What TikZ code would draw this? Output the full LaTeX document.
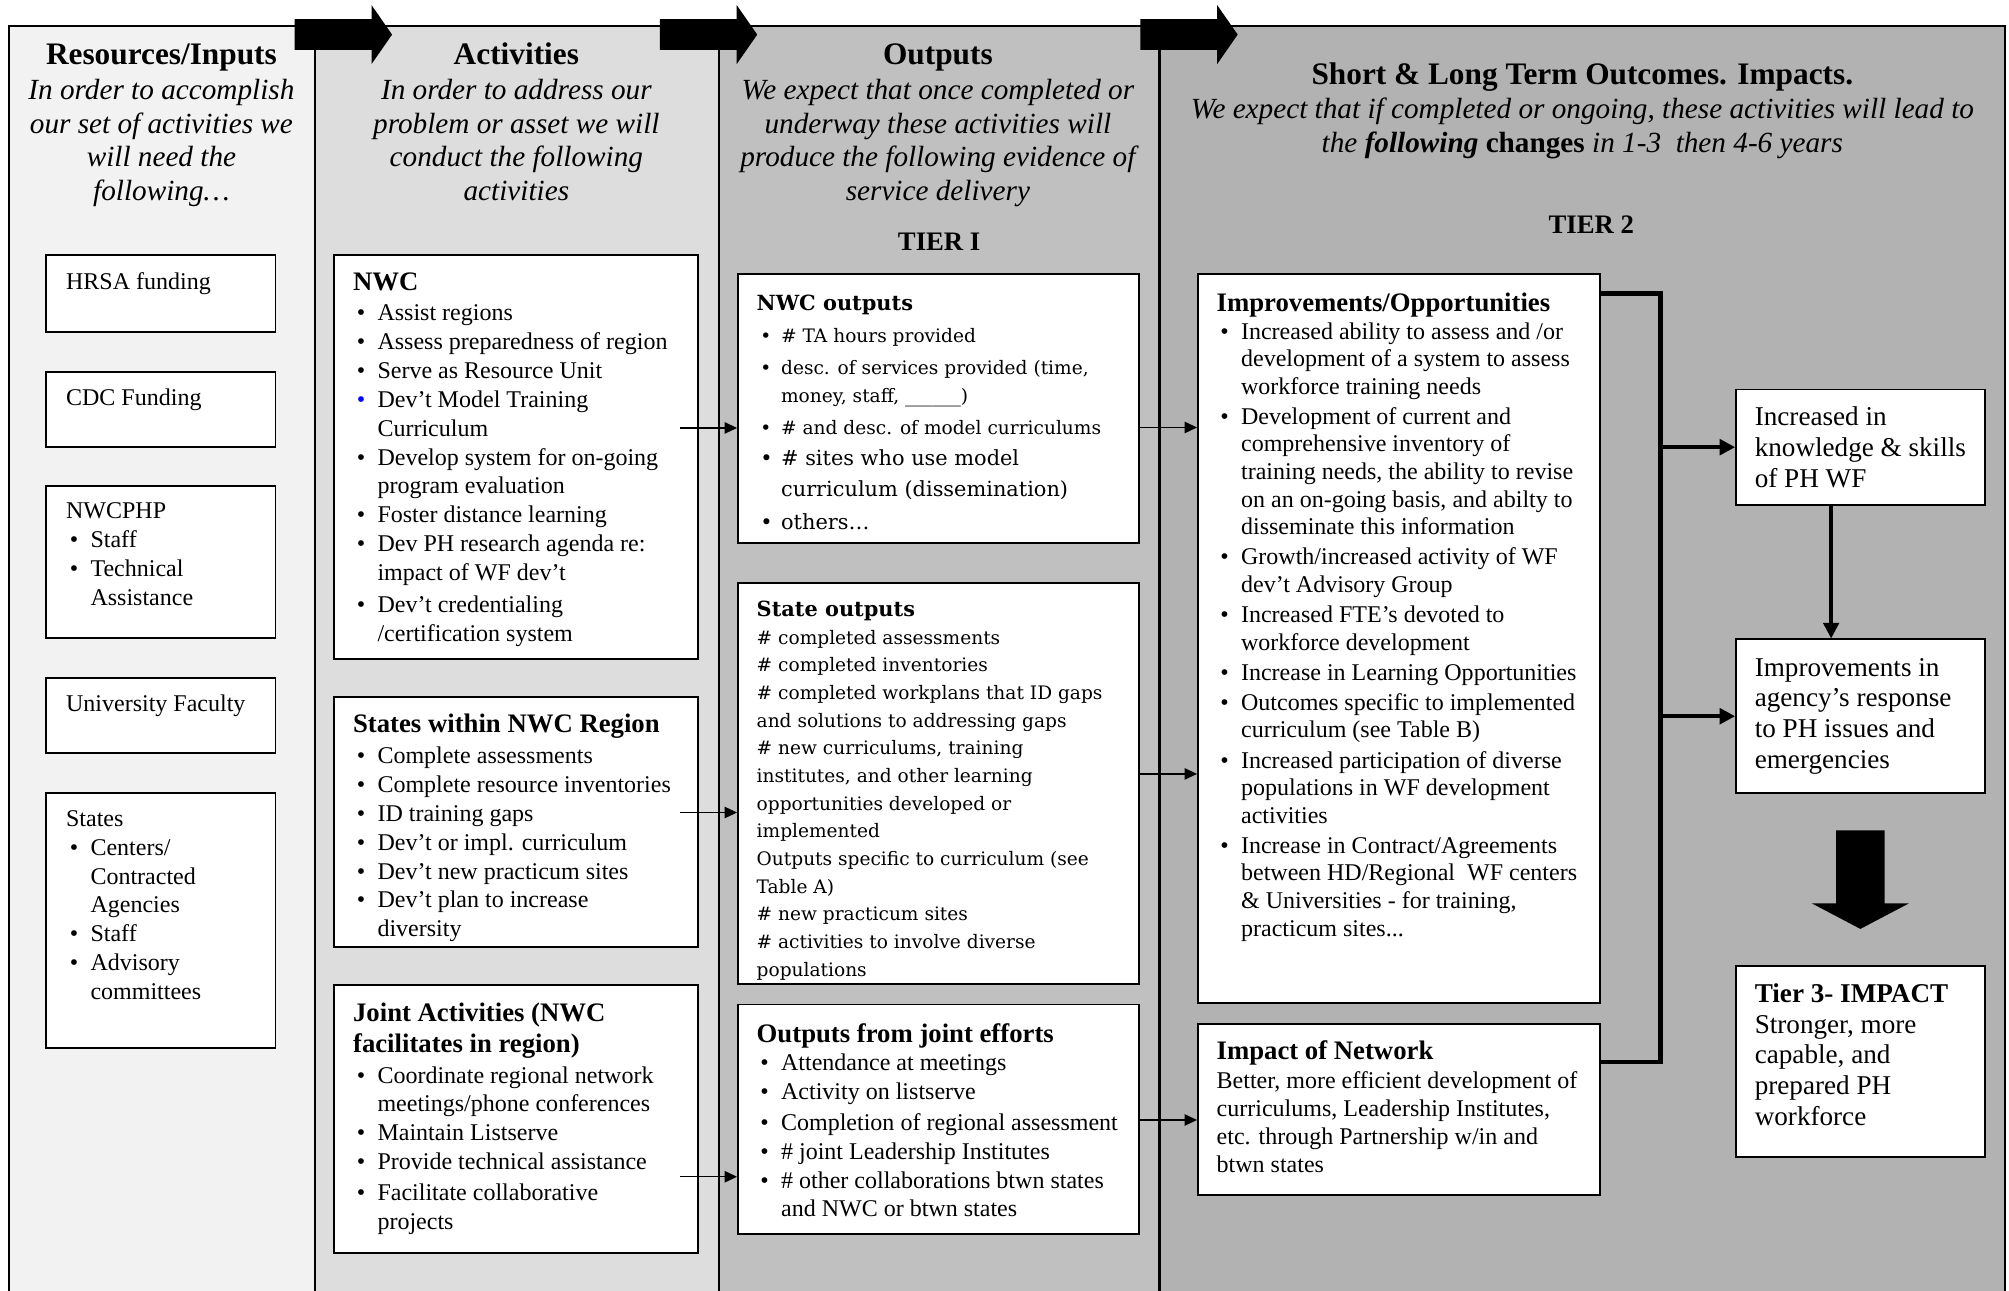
\documentclass[tikz,border=0pt]{standalone}
\usepackage{fontspec}
\setmainfont{Liberation Serif}
\newfontfamily\schfont{DejaVu Serif}
\usepackage{tikz}
\usetikzlibrary{calc, fit, arrows.meta}

\definecolor{colA}{HTML}{F2F2F2}
\definecolor{colB}{HTML}{DDDDDD}
\definecolor{colC}{HTML}{C0C0C0}
\definecolor{colD}{HTML}{B2B2B2}

\newcommand{\bu}{\hspace*{1.8pt}\makebox[9.9pt][l]{\textbullet}}
\newcommand{\bb}{\hspace*{1.8pt}\makebox[9.9pt][l]{\textcolor{blue}{\textbullet}}}
\newcommand{\cn}{\hspace*{11.7pt}}
\newcommand{\ttl}[1]{{\bfseries\fontsize{12.8}{15}\selectfont #1}}
\newcommand{\sttl}[1]{{\bfseries\fontsize{10}{13}\selectfont #1}}

\tikzset{
  box/.style={draw, line width=0.9pt, fill=white, inner sep=0pt},
  txt/.style={anchor=north west, align=left, inner sep=0pt, font=\fontsize{11.5}{13.8}\selectfont},
  wide/.style={txt, font=\schfont\fontsize{8.9}{13.25}\selectfont},
  big/.style={txt, font=\fontsize{13}{14.7}\selectfont},
  head/.style={anchor=base, font=\bfseries\fontsize{15}{17}\selectfont},
  sub/.style={anchor=north, align=center, font=\itshape\fontsize{14}{16.1}\selectfont},
  tier/.style={font=\bfseries\fontsize{12.8}{15}\selectfont},
  link/.style={line width=0.6pt, -{Triangle[length=6pt,width=5.5pt]}},
  bold link/.style={line width=2pt, -{Triangle[length=7.5pt,width=7.5pt]}},
}

\begin{document}
\begin{tikzpicture}[x=0.6137pt, y=-0.6137pt]
\useasboundingbox (0,0) rectangle (1568,1007.6);

\fill[colA] (7,20) rectangle (246,1010);
\fill[colB] (246,20) rectangle (561,1010);
\fill[colC] (561,20) rectangle (905,1010);
\fill[colD] (905,20) rectangle (1565,1010);
\draw[line width=1pt] (7,1010) -- (7,20) -- (1565,20) -- (1565,1010);
\foreach \x in {246,561,905}
  \draw[line width=1pt] (\x,20) -- (\x,1010);

\foreach \x in {230,515,890}
  \fill (\x,15) -- ++(60,0) -- ++(0,-11) -- ++(16,23) -- ++(-16,23) -- ++(0,-11) -- ++(-60,0) -- cycle;

\node[head] (hres) at (126,50) {Resources/Inputs};
\node[sub] (sres) at (126,56) {In order to accomplish\\our set of activities we\\will need the\\following\ldots};
\node[head] (hact) at (403,50) {Activities};
\node[sub] (sact) at (403,56) {In order to address our\\problem or asset we will\\conduct the following\\activities};
\node[head] (hout) at (732,50) {Outputs};
\node[sub] (sout) at (732,56) {We expect that once completed or\\underway these activities will\\produce the following evidence of\\service delivery};
\node[tier] (tier1) at (733,189) {TIER I};
\node[head] (hoc) at (1235,66) {Short \& Long Term Outcomes. Impacts.};
\node[sub] (soc) at (1235,71) {We expect that if completed or ongoing, these activities will lead to\\the \textbf{following} \textup{\textbf{changes}} in 1-3\ \ then 4-6 years};
\node[tier] (tier2) at (1242,175) {TIER 2};

\node[box, fit={(36,199) (215,259)}] (hrsa) {};
\node[txt] (hrsaT) at ([shift={(16,14)}]hrsa.north west) {HRSA funding};
\node[box, fit={(36,290) (215,349)}] (cdc) {};
\node[txt] (cdcT) at ([shift={(16,14)}]cdc.north west) {CDC Funding};
\node[box, fit={(36,379) (215,498)}] (nwcphp) {};
\node[txt] (nwcphpT) at ([shift={(16,14)}]nwcphp.north west) {NWCPHP\\
\bu Staff\\
\bu Technical\\
\cn Assistance};
\node[box, fit={(36,529) (215,588)}] (univ) {};
\node[txt] (univT) at ([shift={(16,14)}]univ.north west) {University Faculty};
\node[box, fit={(36,619) (215,818)}] (states) {};
\node[txt] (statesT) at ([shift={(16,14)}]states.north west) {States\\
\bu Centers/\\
\cn Contracted\\
\cn Agencies\\
\bu Staff\\
\bu Advisory\\
\cn committees};

\node[box, fit={(261,199) (545,514)}] (nwcact) {};
\node[txt] (nwcactT) at ([shift={(15,14)}]nwcact.north west) {\ttl{NWC}\\[1pt]
\bu Assist regions\\
\bu Assess preparedness of region\\
\bu Serve as Resource Unit\\
\bb Dev't Model Training\\
\cn Curriculum\\
\bu Develop system for on-going\\
\cn program evaluation\\
\bu Foster distance learning\\
\bu Dev PH research agenda re:\\
\cn impact of WF dev't\\[1.5pt]
\bu Dev't credentialing\\
\cn /certification system};
\node[box, fit={(261,544) (545,739)}] (stact) {};
\node[txt] (stactT) at ([shift={(15,14)}]stact.north west) {\ttl{States within NWC Region}\\[1pt]
\bu Complete assessments\\
\bu Complete resource inventories\\
\bu ID training gaps\\
\bu Dev't or impl. curriculum\\
\bu Dev't new practicum sites\\
\bu Dev't plan to increase\\
\cn diversity};
\node[box, fit={(261,769) (545,978)}] (jact) {};
\node[txt] (jactT) at ([shift={(15,14)}]jact.north west) {\ttl{Joint Activities (NWC}\\[1pt]
\ttl{facilitates in region)}\\[1pt]
\bu Coordinate regional network\\
\cn meetings/phone conferences\\
\bu Maintain Listserve\\
\bu Provide technical assistance\\[1pt]
\bu Facilitate collaborative\\
\cn projects};

\node[box, fit={(576,214) (889,424)}] (nwcout) {};
\node[wide, font=\schfont\fontsize{8.9}{13.5}\selectfont] (nwcoutT) at ([shift={(15,17)}]nwcout.north west) {\sttl{NWC outputs}\\[1.5pt]
\bu \# TA hours provided\\[1.8pt]
\bu desc. of services provided (time,\\
\cn money, staff, \_\_\_\_\_\_)\\[1.8pt]
\bu \# and desc. of model curriculums\\[1.5pt]
{\fontsize{10}{12}\selectfont\bu \# sites who use model}\\[1.5pt]
{\fontsize{10}{12}\selectfont\cn curriculum (dissemination)}\\[2pt]
{\fontsize{10}{12}\selectfont\bu others\ldots}};
\node[box, fit={(576,455) (889,768)}] (stout) {};
\node[wide] (stoutT) at ([shift={(15,14.5)}]stout.north west) {\sttl{State outputs}\\
\# completed assessments\\
\# completed inventories\\
\# completed workplans that ID gaps\\
and solutions to addressing gaps\\
\# new curriculums, training\\
institutes, and other learning\\
opportunities developed or\\
implemented\\
Outputs specific to curriculum (see\\
Table A)\\
\# new practicum sites\\
\# activities to involve diverse\\
populations};
\node[box, fit={(576,784) (889,963)}] (jout) {};
\node[txt] (joutT) at ([shift={(15,15)}]jout.north west) {\ttl{Outputs from joint efforts}\\
\bu Attendance at meetings\\
\bu Activity on listserve\\[1pt]
\bu Completion of regional assessment\\
\bu \# joint Leadership Institutes\\
\bu \# other collaborations btwn states\\
\cn and NWC or btwn states};

\node[box, fit={(935,214) (1249,783)}] (impr) {};
\node[txt, font=\fontsize{11.5}{13.22}\selectfont] (imprT) at ([shift={(15,15)}]impr.north west) {\ttl{Improvements/Opportunities}\\
\bu Increased ability to assess and /or\\
\cn development of a system to assess\\
\cn workforce training needs\\[1.2pt]
\bu Development of current and\\
\cn comprehensive inventory of\\
\cn training needs, the ability to revise\\
\cn on an on-going basis, and abilty to\\
\cn disseminate this information\\[1.2pt]
\bu Growth/increased activity of WF\\
\cn dev't Advisory Group\\[1.2pt]
\bu Increased FTE's devoted to\\
\cn workforce development\\[1.2pt]
\bu Increase in Learning Opportunities\\[1.2pt]
\bu Outcomes specific to implemented\\
\cn curriculum (see Table B)\\[1.2pt]
\bu Increased participation of diverse\\
\cn populations in WF development\\
\cn activities\\[1.2pt]
\bu Increase in Contract/Agreements\\
\cn between HD/Regional\ \ WF centers\\
\cn \& Universities - for training,\\
\cn practicum sites...};
\node[box, fit={(935,799) (1249,933)}] (impnet) {};
\node[txt, font=\fontsize{11.5}{13.5}\selectfont] (impnetT) at ([shift={(15,14)}]impnet.north west) {\ttl{Impact of Network}\\
Better, more efficient development of\\
curriculums, Leadership Institutes,\\
etc. through Partnership w/in and\\
btwn states};

\node[box, fit={(1355,304) (1549,394)}] (know) {};
\node[big] (knowT) at ([shift={(15,14)}]know.north west) {Increased in\\knowledge \& skills\\of PH WF};
\node[box, fit={(1355,499) (1549,619)}] (agency) {};
\node[big] (agencyT) at ([shift={(15,15)}]agency.north west) {Improvements in\\agency's response\\to PH issues and\\emergencies};
\node[box, fit={(1355,754) (1549,903)}] (tier3) {};
\node[big] (tier3T) at ([shift={(15,14)}]tier3.north west) {{\bfseries Tier 3- IMPACT}\\Stronger, more\\capable, and\\prepared PH\\workforce};

\fill (1433,648) -- (1471,648) -- (1471,705) -- (1490,705) -- (1452,725) -- (1414,705) -- (1433,705) -- cycle;

\foreach \a/\b/\p in {nwcact/nwcout/0.571, stact/stout/0.572, jact/jout/0.749} {
  \coordinate (e) at ($(\b.north west)!\p!(\b.south west)$);
  \draw[link] ([xshift=-9pt]\a.east |- e) -- (e);
}
\foreach \a/\b/\p in {nwcout/impr/0.211, stout/impr/0.685, jout/impnet/0.56} {
  \coordinate (e) at ($(\b.north west)!\p!(\b.south west)$);
  \draw[link] (\a.east |- e) -- (e);
}

\coordinate (bt) at (1296,229);
\coordinate (bb) at (1296,829);
\draw[line width=2pt] (impr.east |- bt) -- (bt) -- (bb) -- (impnet.east |- bb);
\draw[bold link] (bt |- know.west) -- (know.west);
\draw[bold link] (bt |- agency.west) -- (agency.west);
\draw[bold link, line width=1.6pt] ([xshift=-14pt]know.south) -- ([xshift=-14pt]agency.north);

\end{tikzpicture}
\end{document}
